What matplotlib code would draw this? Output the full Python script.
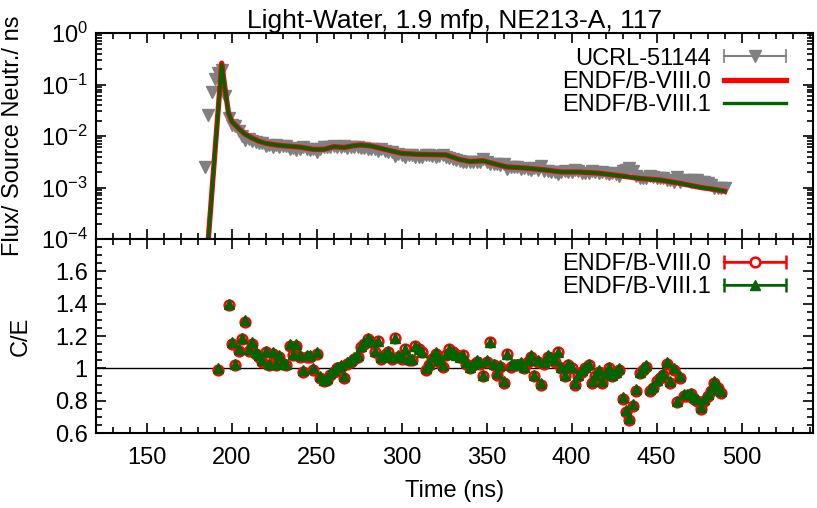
"""Time-of-flight flux and C/E ratios for the light-water sphere, NE213-A detector."""

import matplotlib
matplotlib.use("Agg")
import matplotlib.pyplot as plt
import numpy as np
from matplotlib.legend_handler import HandlerErrorbar
from matplotlib.lines import Line2D
from matplotlib.ticker import FixedLocator, FormatStrFormatter, LogLocator, MultipleLocator

plt.rcParams["font.family"] = ["Liberation Sans", "DejaVu Sans"]
plt.rcParams["mathtext.fontset"] = "custom"
plt.rcParams["mathtext.rm"] = "Liberation Sans"
plt.rcParams["font.size"] = 17

RED = "#ff0000"
GREEN = "#006400"
GRAY = "#808080"

# calculated flux (per source neutron per ns)
calc_t = [184, 186, 194, 196, 198, 200, 204, 208, 212, 216, 220, 226, 232, 240, 248,
          254, 260, 266, 272, 276, 282, 290, 300, 310, 326, 334, 340, 348, 356, 362,
          372, 384, 394, 404, 416, 428, 440, 452, 464, 476, 484, 490]
calc_viii0 = [1.6e-5, 9e-5, 0.26, 0.08, 0.028, 0.019, 0.014, 0.0107, 0.0091, 0.0079,
              0.0072, 0.0067, 0.0064, 0.0061, 0.0055, 0.0055, 0.0062, 0.0060, 0.0065,
              0.0067, 0.0064, 0.0055, 0.0046, 0.0044, 0.0043, 0.0035, 0.0032, 0.0033,
              0.0028, 0.0025, 0.0024, 0.0022, 0.0020, 0.0020, 0.0019, 0.0017, 0.0015,
              0.0014, 0.0012, 0.0010, 0.00092, 0.00085]
calc_viii1 = [1.6e-5, 9e-5, 0.24, 0.078, 0.028, 0.019, 0.014, 0.0106, 0.0090, 0.0079,
              0.0072, 0.0067, 0.0064, 0.0061, 0.0055, 0.0055, 0.0062, 0.0060, 0.0065,
              0.0067, 0.0064, 0.0055, 0.0046, 0.0044, 0.0043, 0.0035, 0.0032, 0.0033,
              0.0028, 0.0025, 0.0024, 0.0022, 0.0020, 0.0020, 0.0019, 0.0017, 0.0015,
              0.0014, 0.0012, 0.0010, 0.00092, 0.00085]

# UCRL-51144 measurement
exp_t = list(range(184, 492, 2))
exp_flux = [
    0.0025, 0.026, 0.07, 0.13, 0.17, 0.19, 0.06, 0.022, 0.0165, 0.0157,
    0.0126, 0.0102, 0.0083, 0.0088, 0.0079, 0.0078, 0.0074, 0.0073, 0.0065, 0.0068,
    0.0062, 0.0066, 0.0062, 0.0063, 0.0063, 0.0056, 0.0058, 0.0054, 0.0057, 0.0061,
    0.0055, 0.0054, 0.0055, 0.0050, 0.0057, 0.0060, 0.0061, 0.0061, 0.0063, 0.0062,
    0.0060, 0.0064, 0.0059, 0.0061, 0.0061, 0.0062, 0.0059, 0.0058, 0.0056, 0.0055,
    0.0056, 0.0051, 0.0055, 0.0051, 0.0048, 0.0048, 0.0041, 0.0044, 0.0043, 0.0040,
    0.0043, 0.0042, 0.0039, 0.0039, 0.0039, 0.0043, 0.0042, 0.0041, 0.0039, 0.0041,
    0.0043, 0.0040, 0.0037, 0.0035, 0.0034, 0.0033, 0.0031, 0.0032, 0.0032, 0.0031,
    0.0032, 0.0032, 0.0035, 0.0032, 0.0028, 0.0029, 0.0029, 0.0027, 0.0029, 0.0023,
    0.0025, 0.0025, 0.0025, 0.0023, 0.0024, 0.0023, 0.0022, 0.0024, 0.0022, 0.0026,
    0.0021, 0.0021, 0.0020, 0.0020, 0.0018, 0.0020, 0.0021, 0.0020, 0.0020, 0.0022,
    0.0021, 0.0019, 0.0019, 0.0019, 0.0021, 0.0020, 0.0019, 0.0020, 0.0019, 0.0018,
    0.0019, 0.0018, 0.0017, 0.0021, 0.0022, 0.0024, 0.0021, 0.0017, 0.0015, 0.0015,
    0.0015, 0.0017, 0.0016, 0.0015, 0.0015, 0.0015, 0.0014, 0.0014, 0.0013, 0.0016,
    0.0013, 0.0014, 0.0014, 0.0013, 0.0014, 0.0014, 0.0013, 0.0013, 0.0012, 0.0011,
    0.0010, 0.0010, 0.0010, 0.0010,
]

# C/E ratios
ce_t = [192] + list(range(198, 490, 2))
ce_viii0 = [
    0.99, 1.39, 1.15, 1.02, 1.11, 1.18, 1.285, 1.11, 1.15, 1.09,
    1.07, 1.04, 1.10, 1.02, 1.09, 1.02, 1.07, 1.03, 1.02, 1.14,
    1.08, 1.14, 1.07, 0.98, 1.07, 1.07, 0.99, 1.09, 0.94, 0.92,
    0.93, 0.96, 0.98, 1.00, 1.01, 0.94, 1.03, 1.04, 1.06, 1.07,
    1.13, 1.15, 1.18, 1.16, 1.10, 1.17, 1.06, 1.08, 1.10, 1.06,
    1.19, 1.07, 1.06, 1.12, 1.05, 1.05, 1.14, 1.12, 1.10, 0.99,
    1.02, 1.06, 1.09, 1.04, 1.01, 1.08, 1.12, 1.10, 1.08, 1.07,
    1.08, 1.03, 1.00, 1.02, 1.04, 1.03, 0.95, 1.04, 1.16, 1.02,
    0.96, 1.01, 0.91, 1.09, 1.01, 1.02, 1.02, 1.03, 1.00, 1.04,
    1.07, 0.95, 1.04, 0.90, 1.03, 1.07, 1.06, 1.04, 1.10, 1.00,
    0.95, 1.02, 1.00, 0.90, 0.95, 0.98, 1.00, 1.02, 0.91, 0.95,
    0.98, 0.91, 0.96, 1.00, 0.95, 0.97, 0.99, 0.81, 0.73, 0.68,
    0.77, 0.86, 0.97, 0.99, 1.01, 0.86, 0.88, 0.92, 0.94, 0.96,
    1.03, 0.91, 0.99, 0.79, 0.94, 0.83, 0.83, 0.84, 0.81, 0.80,
    0.75, 0.80, 0.83, 0.86, 0.91, 0.88, 0.85,
]
ce_viii1 = [
    1.00, 1.40, 1.16, 1.03, 1.12, 1.19, 1.30, 1.12, 1.16, 1.10,
    1.08, 1.05, 1.11, 1.03, 1.10, 1.03, 1.08, 1.04, 1.03, 1.15,
    1.09, 1.15, 1.08, 0.99, 1.08, 1.08, 1.00, 1.10, 0.95, 0.93,
    0.94, 0.97, 0.99, 1.01, 1.02, 0.95, 1.04, 1.05, 1.07, 1.08,
    1.14, 1.16, 1.19, 1.17, 1.11, 1.17, 1.07, 1.09, 1.11, 1.07,
    1.19, 1.08, 1.07, 1.12, 1.06, 1.06, 1.14, 1.12, 1.10, 1.00,
    1.03, 1.07, 1.10, 1.05, 1.02, 1.09, 1.12, 1.10, 1.08, 1.07,
    1.08, 1.04, 1.01, 1.03, 1.05, 1.04, 0.96, 1.05, 1.16, 1.03,
    0.97, 1.02, 0.92, 1.09, 1.02, 1.03, 1.03, 1.04, 1.01, 1.05,
    1.08, 0.96, 1.05, 0.91, 1.04, 1.08, 1.07, 1.05, 1.10, 1.01,
    0.96, 1.03, 1.01, 0.91, 0.96, 0.99, 1.01, 1.03, 0.92, 0.96,
    0.99, 0.92, 0.97, 1.01, 0.96, 0.98, 1.00, 0.82, 0.74, 0.69,
    0.78, 0.87, 0.98, 1.00, 1.02, 0.87, 0.89, 0.93, 0.95, 0.97,
    1.04, 0.92, 1.00, 0.80, 0.95, 0.84, 0.84, 0.85, 0.82, 0.81,
    0.76, 0.81, 0.84, 0.87, 0.92, 0.89, 0.86,
]

TITLE = "Light-Water, 1.9 mfp, NE213-A, 117"


def style_axis(ax):
    ax.tick_params(which="both", direction="in", top=True, right=True, width=1.2)
    ax.tick_params(which="major", length=7, pad=6)
    ax.tick_params(which="minor", length=4)
    for sp in ax.spines.values():
        sp.set_linewidth(1.5)


def main():
    fig = plt.figure(figsize=(8.17, 5.08), dpi=100)
    ax1 = fig.add_axes([0.1175, 0.5295, 0.8775, 0.4055])
    ax2 = fig.add_axes([0.1175, 0.1476, 0.8775, 0.3819], sharex=ax1)

    # --- flux panel
    ax1.plot(exp_t, exp_flux, linestyle="none", marker="v", ms=8.5, color=GRAY,
             mec=GRAY, zorder=2)
    ax1.plot(calc_t, calc_viii0, color=RED, lw=3.8, zorder=3)
    ax1.plot(calc_t, calc_viii1, color=GREEN, lw=2.4, zorder=4)
    ax1.set_yscale("log")
    ax1.set_ylim(1e-4, 1)
    ax1.set_xlim(120, 542)
    ax1.yaxis.set_major_locator(LogLocator(base=10, numticks=10))
    ax1.yaxis.set_minor_locator(LogLocator(base=10, subs=np.arange(2, 10), numticks=10))
    ax1.set_ylabel("Flux/ Source Neutr./ ns")
    ax1.set_title(TITLE, fontsize=19, pad=2)
    style_axis(ax1)
    plt.setp(ax1.get_xticklabels(), visible=False)

    exp_proxy = ax1.errorbar([np.nan], [np.nan], xerr=[1], color=GRAY, marker="v",
                             ms=8.5, capsize=5, elinewidth=1.2, capthick=1.2)
    ax1.legend(
        [exp_proxy, Line2D([], [], color=RED, lw=3.8), Line2D([], [], color=GREEN, lw=2.4)],
        ["UCRL-51144", "ENDF/B-VIII.0", "ENDF/B-VIII.1"],
        loc="upper right", bbox_to_anchor=(0.975, 0.975), frameon=False, markerfirst=False,
        handlelength=2.6, handletextpad=0.55, labelspacing=0.05, borderaxespad=0.0,
        handler_map={type(exp_proxy): HandlerErrorbar(xerr_size=1.3)},
    )

    # --- C/E panel
    ax2.axhline(1.0, color="black", lw=1.0, zorder=1)
    ax2.plot(ce_t, ce_viii0, linestyle="none", marker="o", ms=7, mfc="none",
             mec=RED, mew=1.8, zorder=3)
    ax2.plot(ce_t, ce_viii1, linestyle="none", marker="^", ms=7.5, color=GREEN,
             mec=GREEN, zorder=4)
    ax2.set_ylim(0.6, 1.8)
    ax2.yaxis.set_major_locator(FixedLocator([0.6, 0.8, 1.0, 1.2, 1.4, 1.6]))
    ax2.yaxis.set_minor_locator(MultipleLocator(0.05))
    ax2.yaxis.set_major_formatter(FormatStrFormatter("%g"))
    ax2.xaxis.set_major_locator(MultipleLocator(50))
    ax2.xaxis.set_minor_locator(MultipleLocator(10))
    ax2.set_xlabel("Time (ns)", labelpad=8)
    ax2.set_ylabel("C/E")
    style_axis(ax2)
    ax2.tick_params(axis="x", which="major", pad=10)

    p0 = ax2.errorbar([np.nan], [np.nan], xerr=[1], color=RED, marker="o", ms=7,
                      mfc="white", mew=1.8, capsize=5, elinewidth=1.8, capthick=1.8)
    p1 = ax2.errorbar([np.nan], [np.nan], xerr=[1], color=GREEN, marker="^", ms=7.5,
                      capsize=5, elinewidth=1.8, capthick=1.8)
    ax2.legend(
        [p0, p1], ["ENDF/B-VIII.0", "ENDF/B-VIII.1"],
        loc="upper right", bbox_to_anchor=(0.975, 0.975), frameon=False, markerfirst=False,
        handlelength=2.6, handletextpad=0.55, labelspacing=0.05, borderaxespad=0.0,
        handler_map={type(p0): HandlerErrorbar(xerr_size=1.3)},
    )

    ax1.yaxis.set_label_coords(-0.1, 0.5)
    ax2.yaxis.set_label_coords(-0.09, 0.5)

    fig.savefig("out.png", dpi=100)


if __name__ == "__main__":
    main()
